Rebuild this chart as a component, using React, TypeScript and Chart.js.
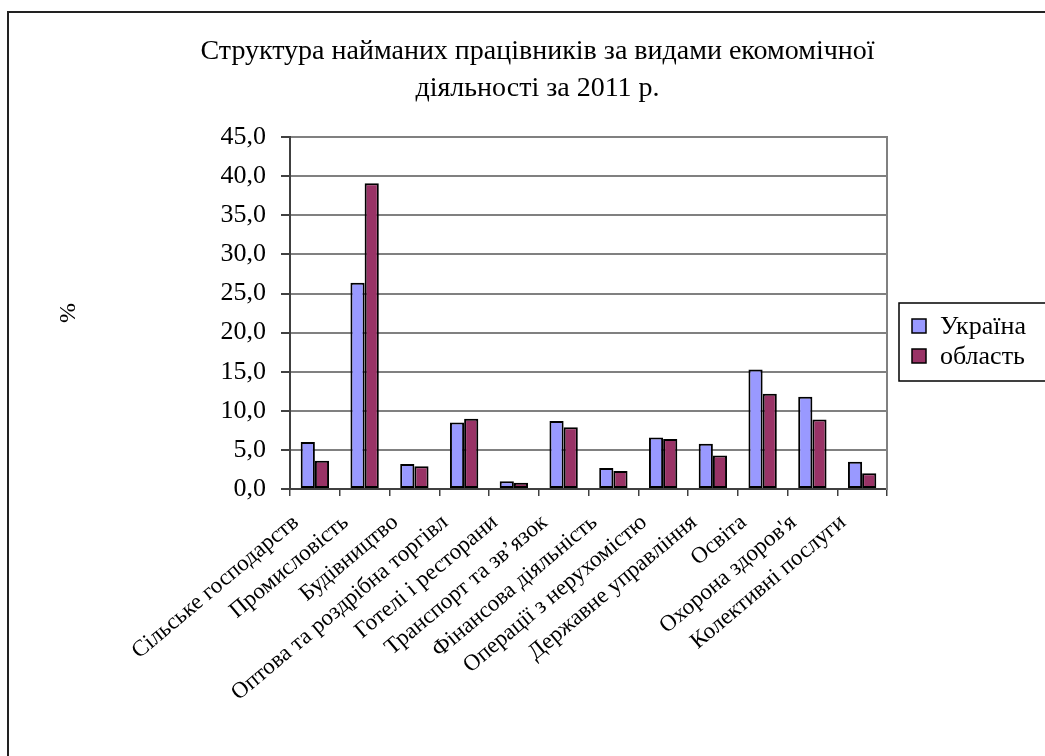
import React, { useEffect, useRef } from "react";
import { Chart, registerables } from "chart.js";

Chart.register(...registerables);

const categories = [
  "Сільське господарств",
  "Промисловість",
  "Будівництво",
  "Оптова та роздрібна торгівл",
  "Готелі і ресторани",
  "Транспорт та зв’язок",
  "Фінансова діяльність",
  "Операції з нерухомістю",
  "Державне управління",
  "Освіта",
  "Охорона здоров'я",
  "Колективні послуги",
];

const ukraineValues = [6.0, 26.4, 3.2, 8.5, 1.0, 8.7, 2.7, 6.6, 5.8, 15.3, 11.8, 3.5];
const regionValues = [3.6, 39.1, 2.9, 9.0, 0.8, 7.9, 2.3, 6.4, 4.3, 12.2, 8.9, 2.0];

const seriesNames = ["Україна", "область"];
const seriesColors = ["#9999FF", "#993366"];

const titleLines = [
  "Структура найманих працівників за видами екомомічної",
  "діяльності за 2011 р.",
];
const yAxisTitle = "%";

const SERIF = "'Liberation Serif', 'Times New Roman', serif";

const frameAndLegend = {
  id: "frameAndLegend",
  beforeDraw(chart: any) {
    const ctx = chart.ctx;
    ctx.save();
    ctx.fillStyle = "#ffffff";
    ctx.fillRect(0, 0, chart.width, chart.height);
    ctx.strokeStyle = "#222222";
    ctx.lineWidth = 2;
    ctx.beginPath();
    ctx.moveTo(8, chart.height);
    ctx.lineTo(8, 12);
    ctx.lineTo(chart.width, 12);
    ctx.stroke();
    ctx.restore();
  },
  afterDraw(chart: any) {
    const ctx = chart.ctx;
    const left = chart.chartArea.right + 12;
    const top = 303;
    ctx.save();
    ctx.strokeStyle = "#000000";
    ctx.lineWidth = 1.5;
    ctx.strokeRect(left, top, 200, 78);
    ctx.font = `26px ${SERIF}`;
    ctx.textBaseline = "middle";
    ctx.textAlign = "left";
    chart.data.datasets.forEach((ds: any, i: number) => {
      const cy = top + 23 + i * 30;
      ctx.fillStyle = ds.backgroundColor;
      ctx.fillRect(left + 13, cy - 7, 14, 14);
      ctx.strokeStyle = "#000000";
      ctx.lineWidth = 1.5;
      ctx.strokeRect(left + 13, cy - 7, 14, 14);
      ctx.fillStyle = "#000000";
      ctx.fillText(ds.label, left + 41, cy + 1);
    });
    ctx.restore();
  },
};

export default function App() {
  const ref = useRef<HTMLCanvasElement | null>(null);

  useEffect(() => {
    if (!ref.current) return;
    const chart = new Chart(ref.current, {
      type: "bar",
      data: {
        labels: categories,
        datasets: [
          {
            label: seriesNames[0],
            data: ukraineValues,
            backgroundColor: seriesColors[0],
            borderColor: "#000000",
            borderWidth: 2,
            borderSkipped: false,
            categoryPercentage: 0.57,
            barPercentage: 1.0,
          },
          {
            label: seriesNames[1],
            data: regionValues,
            backgroundColor: seriesColors[1],
            borderColor: "#000000",
            borderWidth: 2,
            borderSkipped: false,
            categoryPercentage: 0.57,
            barPercentage: 1.0,
          },
        ],
      },
      options: {
        responsive: false,
        animation: false,
        devicePixelRatio: 1,
        layout: { padding: { left: 30, right: 0, top: 0, bottom: 0 } },
        plugins: {
          legend: { display: false },
          tooltip: { enabled: false },
          title: {
            display: true,
            text: titleLines,
            color: "#000000",
            font: { family: SERIF, size: 28, weight: "normal", lineHeight: 1.29 },
            padding: { top: 34, bottom: 31 },
          },
        },
        scales: {
          x: {
            grid: {
              display: true,
              drawOnChartArea: false,
              drawTicks: true,
              tickLength: 7,
              color: "#404040",
              tickColor: "#404040",
              lineWidth: 1.5,
            },
            border: { display: true, color: "#404040", width: 2 },
            ticks: {
              autoSkip: false,
              minRotation: 40,
              maxRotation: 40,
              padding: 13,
              labelOffset: -19,
              color: "#000000",
              font: { family: SERIF, size: 23 },
            },
            afterFit: (s: any) => {
              s.height = 267;
            },
          },
          y: {
            min: 0,
            max: 45,
            ticks: {
              stepSize: 5,
              padding: 15,
              color: "#000000",
              font: { family: SERIF, size: 26 },
              callback: (v: any) => Number(v).toFixed(1).replace(".", ","),
            },
            grid: {
              color: "#808080",
              lineWidth: 2,
              tickLength: 9,
              tickColor: "#404040",
            },
            border: { display: true, color: "#404040", width: 2 },
            title: {
              display: true,
              text: yAxisTitle,
              color: "#000000",
              font: { family: SERIF, size: 24 },
              padding: { top: 24, bottom: 0 },
            },
            afterFit: (s: any) => {
              s.width = 260;
            },
          },
          yRight: {
            type: "linear",
            position: "right",
            min: 0,
            max: 45,
            ticks: { display: false },
            grid: { display: true, drawOnChartArea: false, drawTicks: false },
            border: { display: true, color: "#808080", width: 2 },
            afterFit: (s: any) => {
              s.width = 158;
            },
          },
        },
      },
      plugins: [frameAndLegend],
    });
    return () => chart.destroy();
  }, []);

  return (
    <div style={{ position: "absolute", left: 0, top: 0, width: 1045, height: 756 }}>
      <canvas ref={ref} width={1045} height={756} />
    </div>
  );
}
